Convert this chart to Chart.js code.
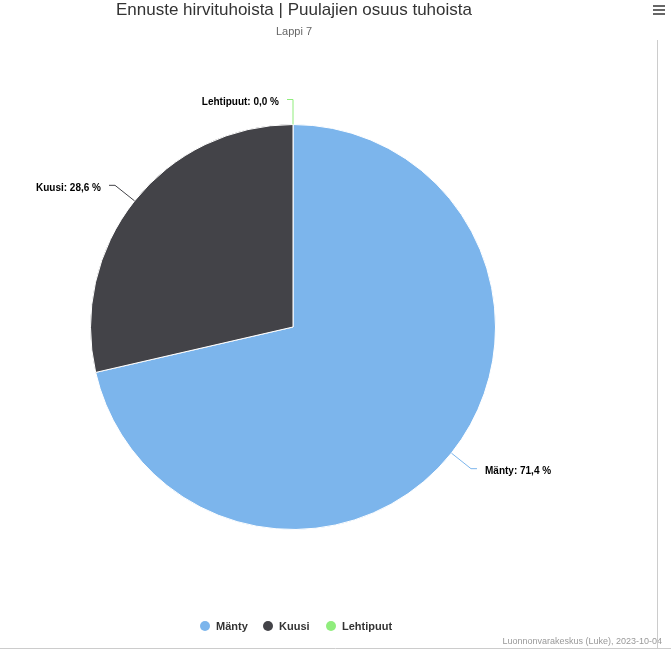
<!DOCTYPE html>
<html>
<head>
<meta charset="utf-8">
<script src="https://cdn.jsdelivr.net/npm/chart.js@4"></script>
<style>
  body { margin: 0; background: #fff; }
  #wrap { position: relative; width: 671px; height: 652px; }
  #menu { position: absolute; right: 6px; top: 3px; width: 12px; }
  #menu div { height: 2px; background: #666; margin: 2px 0; }
</style>
</head>
<body>
<div id="wrap">
  <canvas id="c" width="671" height="652"></canvas>
  <div id="menu"><div></div><div></div><div></div></div>
</div>
<script>
const titleText = 'Ennuste hirvituhoista | Puulajien osuus tuhoista';
const subtitleText = 'Lappi 7';
const creditText = 'Luonnonvarakeskus (Luke), 2023-10-04';
const categories = ['Mänty', 'Kuusi', 'Lehtipuut'];
const shares = [71.4, 28.6, 0.0];
const colors = ['#7cb5ec', '#434348', '#90ed7d'];

const fmt = v => v.toFixed(1).replace('.', ',') + ' %';

const extras = {
  id: 'extras',
  afterDraw(chart) {
    const ctx = chart.ctx;
    ctx.save();
    // title + subtitle
    ctx.textAlign = 'center';
    ctx.textBaseline = 'middle';
    ctx.fillStyle = '#333333';
    ctx.font = '17px "Liberation Sans", Arial, sans-serif';
    ctx.fillText(titleText, 294, 10);
    ctx.fillStyle = '#666666';
    ctx.font = '11px "Liberation Sans", Arial, sans-serif';
    ctx.fillText(subtitleText, 294, 32);

    // data labels with connectors
    const meta = chart.getDatasetMeta(0);
    ctx.font = 'bold 10px "Liberation Sans", Arial, sans-serif';
    meta.data.forEach((arc, i) => {
      const a = (arc.startAngle + arc.endAngle) / 2;
      const dx = Math.cos(a), dy = Math.sin(a);
      const r = arc.outerRadius;
      const x1 = arc.x + dx * r, y1 = arc.y + dy * r;
      const x2 = arc.x + dx * (r + 25), y2 = arc.y + dy * (r + 25);
      const side = dx > 0.01 ? 1 : -1;
      const x3 = x2 + side * 6;
      ctx.strokeStyle = colors[i];
      ctx.lineWidth = 1;
      ctx.beginPath();
      ctx.moveTo(x1, y1);
      ctx.lineTo(x2, y2);
      ctx.lineTo(x3, y2);
      ctx.stroke();
      ctx.fillStyle = '#000000';
      ctx.textAlign = side > 0 ? 'left' : 'right';
      ctx.fillText(categories[i] + ': ' + fmt(shares[i]), x3 + side * 8, y2 + 3);
    });

    // legend
    ctx.font = 'bold 11px "Liberation Sans", Arial, sans-serif';
    ctx.textAlign = 'left';
    const xs = [205, 268, 331];
    categories.forEach((c, i) => {
      ctx.fillStyle = colors[i];
      ctx.beginPath();
      ctx.arc(xs[i], 626, 5, 0, Math.PI * 2);
      ctx.fill();
      ctx.fillStyle = '#333333';
      ctx.fillText(c, xs[i] + 11, 627);
    });

    // credits
    ctx.font = '9px "Liberation Sans", Arial, sans-serif';
    ctx.fillStyle = '#999999';
    ctx.textAlign = 'right';
    ctx.fillText(creditText, 662, 642);

    // frame lines
    ctx.strokeStyle = '#cccccc';
    ctx.beginPath();
    ctx.moveTo(657.5, 40); ctx.lineTo(657.5, 648);
    ctx.moveTo(0, 648.5); ctx.lineTo(671, 648.5);
    ctx.stroke();
    ctx.restore();
  }
};

new Chart(document.getElementById('c'), {
  type: 'pie',
  data: {
    labels: categories,
    datasets: [{
      data: shares,
      backgroundColor: colors,
      borderColor: '#ffffff',
      borderWidth: 1
    }]
  },
  options: {
    responsive: false,
    animation: false,
    layout: { padding: { left: 90, right: 175, top: 124, bottom: 122 } },
    plugins: {
      legend: { display: false },
      title: { display: false },
      tooltip: { enabled: false }
    }
  },
  plugins: [extras]
});
</script>
</body>
</html>
